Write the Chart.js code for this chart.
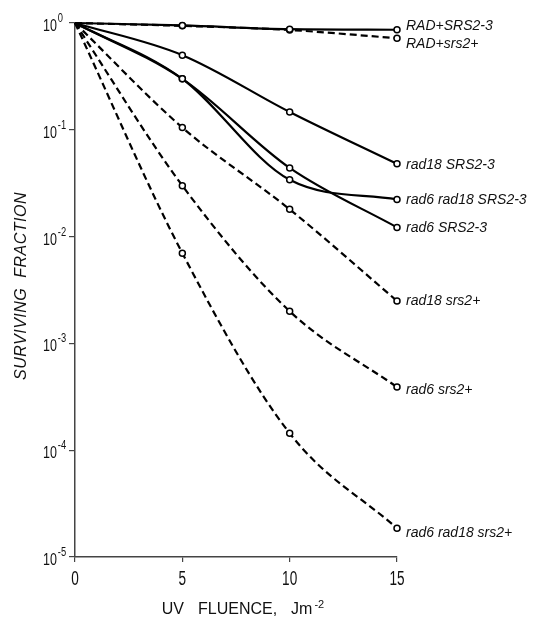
<!DOCTYPE html>
<html><head><meta charset="utf-8">
<script src="https://cdn.jsdelivr.net/npm/chart.js@4/dist/chart.umd.min.js"></script>
<style>html,body{margin:0;padding:0;background:#fff;}#wrap{width:533px;height:617px;position:relative;}</style>
</head><body><div id="wrap"><canvas id="c" width="533" height="617"></canvas></div>
<script>
// ---- data ----
const fluence = [0, 5, 10, 15];
const radPlusSRS23   = [1, 0.95, 0.875, 0.865];
const radPlusSrs2    = [1, 0.94, 0.86, 0.72];
const rad18SRS23     = [1, 0.50, 0.147, 0.048];
const rad6rad18SRS23 = [1, 0.30, 0.034, 0.0223];
const rad6SRS23      = [1, 0.30, 0.044, 0.0122];
const rad18Srs2      = [1, 0.105, 0.018, 0.0025];
const rad6Srs2       = [1, 0.030, 0.0020, 0.00039];
const rad6rad18Srs2  = [1, 0.0070, 0.000144, 0.0000186];
const seriesNames = ['RAD+SRS2-3','RAD+srs2+','rad18 SRS2-3','rad6 rad18 SRS2-3','rad6 SRS2-3','rad18 srs2+','rad6 srs2+','rad6 rad18 srs2+'];
const seriesValues = [radPlusSRS23, radPlusSrs2, rad18SRS23, rad6rad18SRS23, rad6SRS23, rad18Srs2, rad6Srs2, rad6rad18Srs2];
const seriesDashed = [false, true, false, false, false, true, true, true];
const xTickValues = [0, 5, 10, 15];
const yTickExponents = [0, -1, -2, -3, -4, -5];
const xTitle = 'UV FLUENCE, Jm';
const xTitleSup = '-2';
const yTitle = 'SURVIVING  FRACTION';

// label vertical offsets (px) relative to the last point of each curve
const labelDy = [-3.5, 6, 1, 1, 1, 0, 3, 5];

const datasets = seriesValues.map((vals, i) => ({
  label: seriesNames[i],
  data: fluence.map((x, j) => ({x, y: vals[j]})),
  borderColor: '#000',
  borderWidth: 2.2,
  borderDash: seriesDashed[i] ? [7, 4] : [],
  cubicInterpolationMode: 'monotone',
  pointRadius: c => c.dataIndex === 0 ? 0 : 3,
  pointBorderWidth: 1.5,
  pointBackgroundColor: '#fff',
  pointBorderColor: '#000',
  clip: false
}));

const FONT = '"Liberation Sans", Arial, sans-serif';

const textPlugin = {
  id: 'texts',
  afterDraw(chart) {
    const ctx = chart.ctx, xs = chart.scales.x, ys = chart.scales.y;
    ctx.save();
    ctx.fillStyle = '#111';
    // y tick labels 10^n
    yTickExponents.forEach(e => {
      const y = ys.getPixelForValue(Math.pow(10, e));
      ctx.save();
      ctx.translate(57, y + 8);
      ctx.scale(0.78, 1);
      ctx.font = '16px ' + FONT;
      ctx.textAlign = 'right'; ctx.textBaseline = 'alphabetic';
      ctx.fillText('10', 0, 0);
      ctx.font = '12px ' + FONT;
      ctx.textAlign = 'left';
      ctx.fillText(String(e), 1, -9);
      ctx.restore();
    });
    // x tick labels
    xTickValues.forEach(v => {
      const x = xs.getPixelForValue(v);
      ctx.save();
      ctx.translate(x, 585);
      ctx.scale(0.68, 1);
      ctx.font = '20px ' + FONT;
      ctx.textAlign = 'center'; ctx.textBaseline = 'alphabetic';
      ctx.fillText(String(v), 0, 0);
      ctx.restore();
    });
    // x title
    ctx.save();
    ctx.font = '16px ' + FONT;
    const words = xTitle.split(' ');
    const gap = 14;
    let widths = words.map(w => ctx.measureText(w).width);
    ctx.font = '11px ' + FONT;
    const supW = ctx.measureText(xTitleSup).width + 2;
    const total = widths.reduce((a, b) => a + b, 0) + gap * (words.length - 1) + supW;
    let cx = (xs.left + xs.right) / 2 + 7 - total / 2;
    ctx.font = '16px ' + FONT;
    ctx.textAlign = 'left'; ctx.textBaseline = 'alphabetic';
    words.forEach((w, i) => { ctx.fillText(w, cx, 614); cx += widths[i] + gap; });
    cx -= gap;
    ctx.font = '11px ' + FONT;
    ctx.fillText(xTitleSup, cx + 2, 608);
    ctx.restore();
    // y title
    ctx.save();
    ctx.translate(22, (ys.top + ys.bottom) / 2 - 4);
    ctx.rotate(-Math.PI / 2);
    ctx.font = 'italic 16px ' + FONT;
    ctx.letterSpacing = '0.5px';
    ctx.textAlign = 'center'; ctx.textBaseline = 'middle';
    ctx.fillText(yTitle, 0, 0);
    ctx.restore();
    // series labels at curve ends
    ctx.font = 'italic 14px ' + FONT;
    ctx.textAlign = 'left'; ctx.textBaseline = 'middle';
    chart.data.datasets.forEach((ds, i) => {
      const pts = chart.getDatasetMeta(i).data;
      const p = pts[pts.length - 1];
      ctx.fillText(ds.label, p.x + 9, p.y + labelDy[i]);
    });
    ctx.restore();
  }
};

new Chart(document.getElementById('c'), {
  type: 'line',
  data: { datasets },
  options: {
    responsive: false,
    animation: false,
    devicePixelRatio: 1,
    layout: { padding: { left: 0, top: 23, right: 136, bottom: 0 } },
    plugins: { legend: { display: false }, tooltip: { enabled: false } },
    scales: {
      x: {
        type: 'linear', min: 0, max: 15,
        ticks: { display: false, stepSize: 5 },
        grid: { drawOnChartArea: false, drawTicks: true, tickLength: 5, color: '#444', lineWidth: 1.2 },
        border: { display: true, color: '#444', width: 1.5 },
        afterFit: s => { s.height = 60; }
      },
      y: {
        type: 'logarithmic', min: 1e-5, max: 1,
        ticks: { display: false },
        afterBuildTicks: s => { s.ticks = yTickExponents.map(e => ({ value: Math.pow(10, e) })); },
        grid: { drawOnChartArea: false, drawTicks: true, tickLength: 6, color: '#444', lineWidth: 1.2 },
        border: { display: true, color: '#444', width: 1.5 },
        afterFit: s => { s.width = 75; }
      }
    }
  },
  plugins: [textPlugin]
});
</script>
</body></html>
